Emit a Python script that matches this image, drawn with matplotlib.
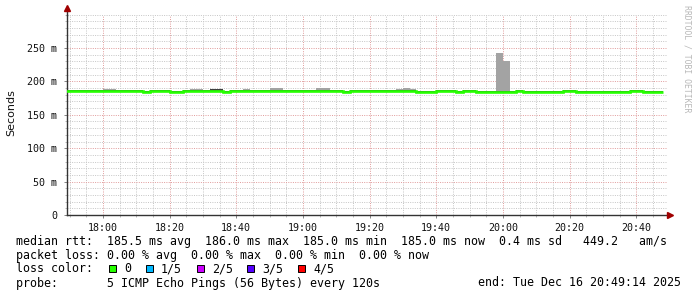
import matplotlib
matplotlib.use("Agg")
import matplotlib.pyplot as plt
import numpy as np
from matplotlib.patches import Rectangle
from matplotlib.lines import Line2D

# ---------------- data ----------------
# time axis: minutes since 17:00, 2-minute steps (first step starts 17:48)
start_min = 48.0
step_min = 2.0
view_start = 49 + 14 / 60.0   # 17:49:14
view_end = 229 + 14 / 60.0    # 20:49:14

median_ms = [
    186.2, 186.2, 186.2, 186.2, 186.2, 186.2, 186.2, 186.2, 186.2, 186.2,
    186.2, 186.2, 184.8, 186.2, 186.2, 186.2, 184.8, 184.8, 186.2, 186.2,
    186.2, 186.2, 186.2, 186.2, 184.8, 186.2, 186.2, 186.2, 186.2, 186.2,
    186.2, 186.2, 186.2, 186.2, 186.2, 186.2, 186.2, 186.2, 186.2, 186.2,
    186.2, 186.2, 184.8, 186.2, 186.2, 186.2, 186.2, 186.2, 186.2, 186.2,
    186.2, 186.2, 186.2, 184.8, 184.8, 184.8, 186.2, 186.2, 186.2, 184.8,
    186.2, 186.2, 184.8, 184.8, 184.8, 184.8, 184.8, 184.8, 186.2, 184.8,
    184.8, 184.8, 184.8, 184.8, 184.8, 186.2, 186.2, 184.8, 184.8, 184.8,
    184.8, 184.8, 184.8, 184.8, 184.8, 186.2, 186.2, 184.8, 184.8, 184.8,
]

ping_max_ms = [
    187.4, 187.4, 187.4, 187.4, 187.4, 187.4, 189.2, 189.2, 187.4, 187.4,
    187.4, 187.4, 186.0, 187.4, 187.4, 187.4, 186.0, 186.0, 187.4, 189.2,
    189.2, 187.4, 189.2, 189.2, 186.0, 187.4, 187.4, 189.2, 187.4, 187.4,
    187.4, 190.1, 190.1, 187.4, 187.4, 187.4, 187.4, 187.4, 190.1, 190.1,
    187.4, 187.4, 186.0, 187.4, 187.4, 187.4, 187.4, 187.4, 187.4, 187.4,
    189.2, 190.6, 189.2, 186.0, 186.0, 186.0, 187.4, 187.4, 187.4, 186.0,
    187.4, 187.4, 186.0, 186.0, 186.0, 243.0, 231.0, 186.0, 187.4, 186.0,
    186.0, 186.0, 186.0, 186.0, 186.0, 187.4, 187.4, 186.0, 186.0, 186.0,
    186.0, 186.0, 186.0, 186.0, 186.0, 187.4, 187.4, 186.0, 186.0, 186.0,
]

ping_2nd_ms = [
    186.9, 186.9, 186.9, 186.9, 186.9, 186.9, 186.9, 186.9, 186.9, 186.9,
    186.9, 186.9, 185.5, 186.9, 186.9, 186.9, 185.5, 185.5, 186.9, 186.9,
    186.9, 186.9, 189.2, 189.2, 185.5, 186.9, 186.9, 186.9, 186.9, 186.9,
    186.9, 186.9, 186.9, 186.9, 186.9, 186.9, 186.9, 186.9, 186.9, 186.9,
    186.9, 186.9, 185.5, 186.9, 186.9, 186.9, 186.9, 186.9, 186.9, 186.9,
    186.9, 186.9, 186.9, 185.5, 185.5, 185.5, 186.9, 186.9, 186.9, 185.5,
    186.9, 186.9, 185.5, 185.5, 185.5, 185.5, 185.5, 185.5, 186.9, 185.5,
    185.5, 185.5, 185.5, 185.5, 185.5, 186.9, 186.9, 185.5, 185.5, 185.5,
    185.5, 185.5, 185.5, 185.5, 185.5, 186.9, 186.9, 185.5, 185.5, 185.5,
]

ping_min_ms = [
    185.0, 185.0, 185.0, 185.0, 185.0, 185.0, 185.0, 185.0, 185.0, 185.0,
    185.0, 185.0, 183.6, 185.0, 185.0, 185.0, 183.6, 183.6, 185.0, 185.0,
    185.0, 185.0, 185.0, 185.0, 183.6, 185.0, 185.0, 185.0, 185.0, 185.0,
    185.0, 185.0, 185.0, 185.0, 185.0, 185.0, 185.0, 185.0, 185.0, 185.0,
    185.0, 185.0, 183.6, 185.0, 185.0, 185.0, 185.0, 185.0, 185.0, 185.0,
    185.0, 185.0, 185.0, 183.6, 183.6, 183.6, 185.0, 185.0, 185.0, 183.6,
    185.0, 185.0, 183.6, 183.6, 183.6, 183.6, 183.6, 183.6, 185.0, 183.6,
    183.6, 183.6, 183.6, 183.6, 183.6, 185.0, 185.0, 183.6, 183.6, 183.6,
    183.6, 183.6, 183.6, 183.6, 183.6, 185.0, 185.0, 183.6, 183.6, 183.6,
]

x_tick_pos = [60, 80, 100, 120, 140, 160, 180, 200, 220]
x_tick_labels = ["18:00", "18:20", "18:40", "19:00", "19:20", "19:40",
                 "20:00", "20:20", "20:40"]
y_tick_pos = [0, 50, 100, 150, 200, 250]
y_tick_labels = ["0", "50 m", "100 m", "150 m", "200 m", "250 m"]

loss_labels = ["0", "1/5", "2/5", "3/5", "4/5"]
loss_colors = ["#26ff00", "#00b8ff", "#cc00ff", "#5500ff", "#ff0000"]

line1 = "median rtt:  185.5 ms avg  186.0 ms max  185.0 ms min  185.0 ms now  0.4 ms sd   449.2   am/s"
line2 = "packet loss: 0.00 % avg  0.00 % max  0.00 % min  0.00 % now"
line4 = "probe:       5 ICMP Echo Pings (56 Bytes) every 120s"
end_text = "end: Tue Dec 16 20:49:14 2025"

# ---------------- figure ----------------
W, H = 697, 297
fig = plt.figure(figsize=(W / 100, H / 100), dpi=100)
fig.patch.set_facecolor("white")

def fx(px):
    return px / W

def fy(py):
    return 1 - py / H

ax_left, ax_right, ax_top, ax_bottom = 67, 667, 14.6, 215
ax = fig.add_axes([fx(ax_left), fy(ax_bottom), (ax_right - ax_left) / W,
                   (ax_bottom - ax_top) / H])
ax.set_facecolor("white")
ax.set_xlim(view_start, view_end)
ax.set_ylim(0, 300)

edges = start_min + step_min * np.arange(len(median_ms) + 1)

# smoke
ax.stairs(ping_max_ms, edges, baseline=ping_min_ms, fill=True,
          color="#a3a3a3", lw=0, zorder=2)
ax.stairs(ping_2nd_ms, edges, baseline=ping_min_ms, fill=True,
          color="#404040", lw=0, zorder=3)
# median line
ax.stairs(median_ms, edges, baseline=None, color="#26ff00", lw=1.9,
          zorder=4)

# ticks and grid
ax.set_xticks(x_tick_pos)
ax.set_xticklabels(x_tick_labels)
ax.set_xticks(np.arange(50, 230, 5), minor=True)
ax.set_yticks(y_tick_pos)
ax.set_yticklabels(y_tick_labels)
ax.set_yticks(np.arange(0, 301, 10), minor=True)

dot = (0, (1, 1.3))
ax.grid(which="major", color="#e2a0a0", linestyle=dot, linewidth=0.72)
ax.grid(which="minor", color="#c8c8c8", linestyle=dot, linewidth=0.72)
ax.set_axisbelow(True)

mono = "DejaVu Sans Mono"
ax.tick_params(which="major", length=2.5, width=0.72, color="#888888",
               direction="out", pad=3)
ax.tick_params(which="minor", length=1.5, width=0.72, color="#bbbbbb",
               direction="out")
ax.tick_params(axis="y", which="major", pad=4.5)
for lab in ax.get_xticklabels() + ax.get_yticklabels():
    lab.set_fontfamily(mono)
    lab.set_fontsize(7.2)
    lab.set_color("#111111")

for s in ["top", "right"]:
    ax.spines[s].set_visible(False)
for s in ["left", "bottom"]:
    ax.spines[s].set_color("#333333")
    ax.spines[s].set_linewidth(1.0)

# axis extensions with arrows
ax.add_line(Line2D([0, 0], [1, 1.02], transform=ax.transAxes,
                   color="#333333", lw=1.0, clip_on=False))
ax.plot([0], [1.033], marker="^", markersize=4.5, color="#a00000",
        transform=ax.transAxes, clip_on=False, zorder=10)
ax.plot([1.005], [0], marker=">", markersize=4.5, color="#a00000",
        transform=ax.transAxes, clip_on=False, zorder=10)

# y label
fig.text(fx(11), fy(113), "Seconds", rotation=90, ha="center",
         va="center", fontsize=8, family="DejaVu Sans", color="#111111")

# watermark
fig.text(fx(687), fy(5), "RRDTOOL / TOBI OETIKER", rotation=-90,
         ha="center", va="top", fontsize=5.9, family=mono, color="#b8b8b8")

# legend text
tsize = 8.4
fig.text(fx(16), fy(241), line1, ha="left", va="center", fontsize=tsize,
         family=mono, color="#000000")
fig.text(fx(16), fy(255), line2, ha="left", va="center", fontsize=tsize,
         family=mono, color="#000000")
fig.text(fx(16), fy(269), "loss color:", ha="left", va="center",
         fontsize=tsize, family=mono, color="#000000")
box_x = [109, 145.7, 197.3, 247.3, 298.3]
for bx, lab, col in zip(box_x, loss_labels, loss_colors):
    fig.add_artist(Rectangle((fx(bx), fy(272)), 7 / W, 7 / H,
                             transform=fig.transFigure, facecolor=col,
                             edgecolor="#000000", lw=0.7))
    fig.text(fx(bx + 15), fy(269), lab, ha="left", va="center",
             fontsize=tsize, family=mono, color="#000000")
fig.text(fx(16), fy(283), line4, ha="left", va="center", fontsize=tsize,
         family=mono, color="#000000")
fig.text(fx(681), fy(283), end_text, ha="right", va="center",
         fontsize=tsize, family=mono, color="#000000")

fig.savefig("out.png", dpi=100, facecolor="white")
